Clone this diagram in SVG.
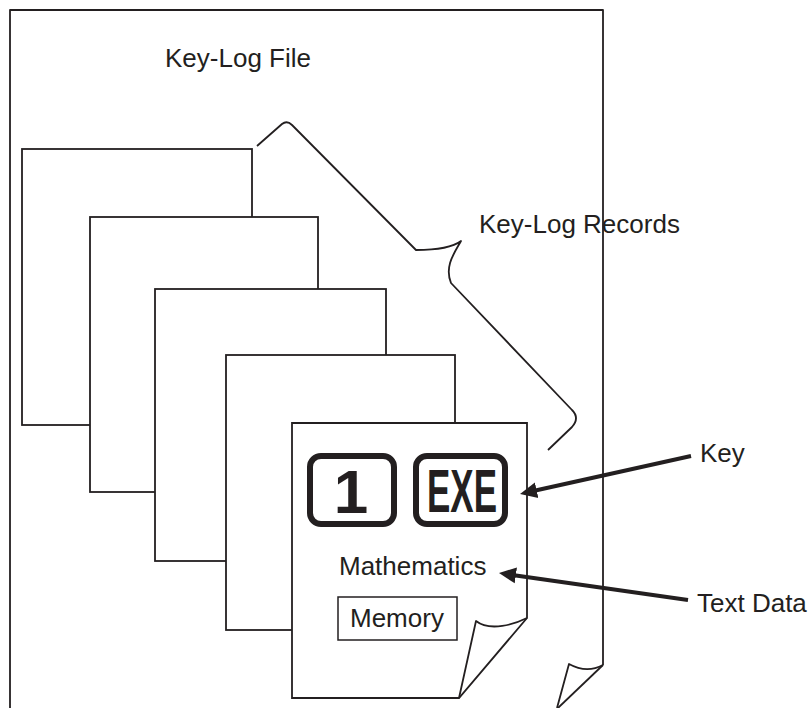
<svg xmlns="http://www.w3.org/2000/svg" width="811" height="708" viewBox="0 0 811 708">
<style>
.ln{fill:none;stroke:#231f20;stroke-width:1.8;stroke-linejoin:round}
.pg{fill:#ffffff;stroke:#231f20;stroke-width:1.8;stroke-linejoin:miter}
.lbl{font-family:"Liberation Sans",Arial,sans-serif;font-size:26px;fill:#231f20}
.key{fill:#ffffff;stroke:#231f20;stroke-width:6}
.keyt{font-family:"Liberation Sans",Arial,sans-serif;font-weight:bold;fill:#231f20;text-anchor:middle}
.arr{fill:none;stroke:#231f20;stroke-width:4}
</style>
<defs>
<marker id="ah" markerUnits="userSpaceOnUse" markerWidth="20" markerHeight="20" viewBox="0 -10 20 20" refX="7" refY="0" orient="auto">
<path d="M0,-8 L17,0 L0,8 z" fill="#231f20"/>
</marker>
</defs>
<rect width="811" height="708" fill="#ffffff"/>
<g id="keylog-file">
<path class="ln" d="M10,708 V10 H603 V665"/>
<path class="ln" d="M603,665 C590,672 578,669 569,664 L557,708"/>
<path class="ln" d="M603,665 L558,708"/>
<text class="lbl" x="165" y="67">Key-Log File</text>
</g>
<g id="record1"><rect class="pg" x="22" y="149" width="230" height="276"/></g>
<g id="record2"><rect class="pg" x="90" y="217" width="228" height="275"/></g>
<g id="record3"><rect class="pg" x="155" y="289" width="231" height="272"/></g>
<g id="record4"><rect class="pg" x="226" y="355" width="229" height="275"/></g>
<g id="record5">
<path class="pg" d="M292,423 H527 V618 L459,698 H292 Z"/>
<path class="ln" d="M527,618 C515,624 490,632 476,621 L459,698"/>
<rect class="key" x="310" y="456" width="84" height="68" rx="11"/>
<text class="keyt" x="351" y="513" font-size="62">1</text>
<rect class="key" x="416" y="456" width="89" height="68" rx="11"/>
<text class="keyt" x="462" y="512" font-size="61" textLength="70" lengthAdjust="spacingAndGlyphs">EXE</text>
<text class="lbl" x="339" y="575">Mathematics</text>
<rect x="338" y="597" width="119" height="43" fill="none" stroke="#231f20" stroke-width="1.5"/>
<text class="lbl" x="350" y="627">Memory</text>
</g>
<g id="records-brace">
<path class="ln" d="M257,146 L282,124 Q287,120 292,125 L416,250 C432,250 452,248 461,241 C455,252 444,266 451,283 L572,410 Q580,418 572,427 L548,450"/>
<text class="lbl" x="479" y="233">Key-Log Records</text>
</g>
<g id="key-label"><text class="lbl" x="700" y="462">Key</text></g>
<g id="textdata-label"><text class="lbl" x="697" y="612">Text Data</text></g>
<g id="connectors">
<line class="arr" x1="691" y1="456" x2="529.8" y2="491.8" marker-end="url(#ah)"/>
<line class="arr" x1="688" y1="600" x2="508.9" y2="574.4" marker-end="url(#ah)"/>
</g>
</svg>
